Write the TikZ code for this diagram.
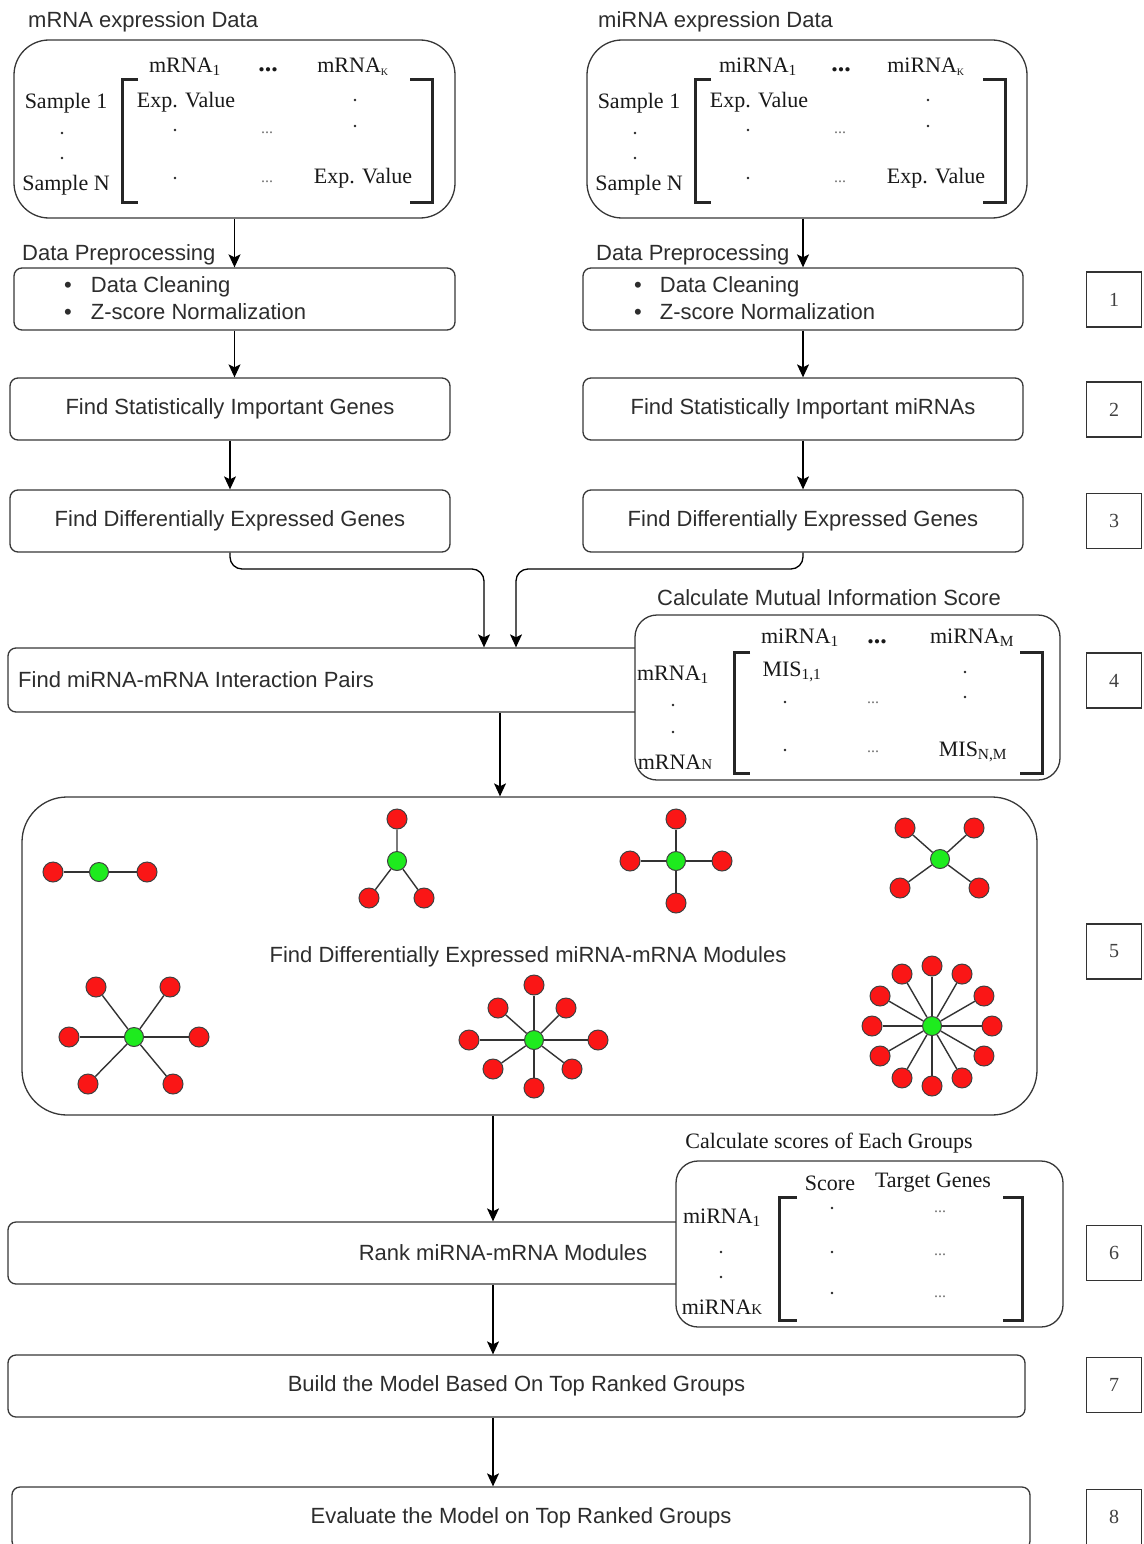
\documentclass[tikz,border=0pt]{standalone}
\usepackage{fontspec}
\setmainfont{Liberation Serif}
\newfontfamily\arialf{Liberation Sans}
\usetikzlibrary{arrows.meta,calc}
\definecolor{txt}{RGB}{45,45,45}
\definecolor{bord}{RGB}{55,55,55}
\definecolor{rnode}{RGB}{250,22,22}
\definecolor{gnode}{RGB}{30,235,30}
\newcommand\SF{\arialf\fontsize{22}{26}\selectfont}
\newcommand\SR{\fontsize{22}{26}\selectfont}
\newcommand\subsm[1]{\textsubscript{\fontsize{10}{10}\selectfont #1}}
\tikzset{
 bx/.style={draw=bord, line width=1.3pt, rounded corners=8pt, fill=white, inner sep=0pt, font=\SF, text=txt},
 lbl/.style={inner sep=0pt, text=txt, font=\SF},
 ser/.style={inner sep=0pt, text=black!90, font=\SR},
 ell/.style={inner sep=0pt, text=black!55, font=\fontsize{16}{16}\selectfont},
 hell/.style={inner sep=0pt, text=black!90, font=\bfseries\fontsize{26}{26}\selectfont},
 arr/.style={draw=black, line width=1.3pt, -{Stealth[length=13pt,width=12pt,inset=3pt]}},
 brk/.style={line width=3pt, draw=black!85},
 rn/.style={circle, draw=black!75, line width=1pt, fill=rnode, minimum size=20pt, inner sep=0pt},
 gn/.style={circle, draw=black!75, line width=1pt, fill=gnode, minimum size=19pt, inner sep=0pt},
 ed/.style={draw=black!80, line width=1.4pt},
 numbox/.style={draw=black!80, line width=1.2pt, minimum width=55pt, minimum height=55pt, inner sep=0pt, font=\fontsize{20}{20}\selectfont, text=black!75},
}
\newcommand\pdot[1]{\fill[black!85] #1 circle (1.4pt);}
\newcommand\datamat[3]{%
\begin{scope}[xshift=#3pt]
 \node[ser] (#1h1) at (185,67) {#2\textsubscript{1}};
 \node[hell] (#1hd) at (268,70) {...};
 \node[ser] (#1hK) at (353,67) {#2\subsm{K}};
 \node[ser] (#1r1) at (66,103) {Sample 1};
 \node[ser] (#1rN) at (66,185) {Sample N};
 \pdot{(62,133)} \pdot{(62,158)}
 \draw[brk] (138,80) -- (122,80) -- (122,202) -- (138,202);
 \draw[brk] (410,80) -- (432,80) -- (432,202) -- (410,202);
 \node[ser] (#1e11) at (186,102) {Exp. Value};
 \pdot{(175,130)} \node[ell] (#1l1) at (267,133) {...};
 \pdot{(355,100)} \pdot{(355,126)}
 \pdot{(175,178)} \node[ell] (#1l2) at (267,182) {...};
 \node[ser] (#1eNK) at (363,178) {Exp. Value};
\end{scope}}
\begin{document}
\begin{tikzpicture}[x=1pt,y=-1pt]
\useasboundingbox (0,0) rectangle (1143,1544);
% titles
\node[lbl, anchor=west] (tl) at (28,22) {mRNA expression Data};
\node[lbl, anchor=west] (tr) at (598,22) {miRNA expression Data};
% data boxes
\node[bx, rounded corners=35pt, minimum width=441pt, minimum height=178pt] (b1) at (234.5,129) {};
\node[bx, rounded corners=35pt, minimum width=440pt, minimum height=178pt] (b2) at (807,129) {};
\datamat{a}{mRNA}{0}
\datamat{b}{miRNA}{573}
% preprocessing
\node[bx, minimum width=441pt, minimum height=62pt] (pp1) at (234.5,299) {};
\node[bx, minimum width=440pt, minimum height=62pt] (pp2) at (803,299) {};
\node[lbl, anchor=west] (dp1) at (22,255) {Data Preprocessing};
\node[lbl, anchor=west] (dp2) at (596,255) {Data Preprocessing};
\node[lbl, anchor=west] (bl1) at (64,287) {\textbullet\hspace{19pt}Data Cleaning};
\node[lbl, anchor=west] (bl2) at (64,312) {\textbullet\hspace{19pt}Z-score Normalization};
\node[lbl, anchor=west] (br1) at (634,287) {\textbullet\hspace{18pt}Data Cleaning};
\node[lbl, anchor=west] (br2) at (634,312) {\textbullet\hspace{18pt}Z-score Normalization};
% steps 2,3
\node[bx, minimum width=440pt, minimum height=62pt] (s2l) at (230,409) {Find Statistically Important Genes};
\node[bx, minimum width=440pt, minimum height=62pt] (s2r) at (803,409) {Find Statistically Important miRNAs};
\node[bx, minimum width=440pt, minimum height=62pt] (s3l) at (230,521) {Find Differentially Expressed Genes};
\node[bx, minimum width=440pt, minimum height=62pt] (s3r) at (803,521) {Find Differentially Expressed Genes};
% step 4
\node[bx, minimum width=984pt, minimum height=64pt] (s4) at (500,680) {};
\node[lbl, anchor=west] (t4) at (18,680) {Find miRNA-mRNA Interaction Pairs};
\node[lbl] (tmis) at (829,598) {Calculate Mutual Information Score};
\node[bx, rounded corners=22pt, minimum width=425pt, minimum height=165pt] (mis) at (847.5,697.5) {};
\node[ser] (mh1) at (800,638) {miRNA\textsubscript{1}};
\node[hell] (mhd) at (877,642) {...};
\node[ser] (mhM) at (972,638) {miRNA\textsubscript{M}};
\node[ser] (mr1) at (673,675) {mRNA\textsubscript{1}};
\pdot{(673,705)} \pdot{(673,732)}
\node[ser] (mrN) at (675,762) {mRNA{\fontsize{15}{15}\selectfont N}};
\draw[brk] (750,652) -- (734,652) -- (734,773) -- (750,773);
\draw[brk] (1020,652) -- (1042,652) -- (1042,773) -- (1020,773);
\node[ser] (mis11) at (792,672) {MIS\textsubscript{1,1}};
\pdot{(965,672)} \pdot{(965,697)}
\pdot{(785,702)} \node[ell] (ml1) at (873,703) {...};
\pdot{(785,750)} \node[ell] (ml2) at (873,752) {...};
\node[ser] (misNM) at (973,752) {MIS\textsubscript{N,M}};
% module box
\node[bx, rounded corners=45pt, minimum width=1015pt, minimum height=318pt] (mod) at (529.5,956) {};
\node[lbl] (tmod) at (528,957) {Find Differentially Expressed miRNA-mRNA Modules};
% module 1
\node[gn] (g1) at (99,872) {};
\node[rn] (g1a) at (53,872) {};
\node[rn] (g1b) at (147,872) {};
\draw[ed] (g1a) -- (g1) (g1) -- (g1b);
% module 2
\node[gn] (g2) at (397,861) {};
\node[rn] (g2a) at (397,819) {};
\node[rn] (g2b) at (369,898) {};
\node[rn] (g2c) at (424,898) {};
\draw[ed] (g2) -- (g2a) (g2) -- (g2b) (g2) -- (g2c);
% module 3
\node[gn] (g3) at (676,861) {};
\node[rn] (g3a) at (676,819) {};
\node[rn] (g3b) at (676,903) {};
\node[rn] (g3c) at (630,861) {};
\node[rn] (g3d) at (722,861) {};
\draw[ed] (g3) -- (g3a) (g3) -- (g3b) (g3) -- (g3c) (g3) -- (g3d);
% module 4
\node[gn] (g4) at (940,859) {};
\node[rn] (g4a) at (905,828) {};
\node[rn] (g4b) at (974,828) {};
\node[rn] (g4c) at (900,888) {};
\node[rn] (g4d) at (979,888) {};
\draw[ed] (g4) -- (g4a) (g4) -- (g4b) (g4) -- (g4c) (g4) -- (g4d);
% module 6
\node[gn] (g6) at (134,1037) {};
\foreach \p [count=\i] in {(96,987),(170,987),(69,1037),(199,1037),(88,1084),(173,1084)} {
  \node[rn] (g6r\i) at \p {};
  \draw[ed] (g6) -- (g6r\i);
}
% module 7
\node[gn] (g7) at (534,1040) {};
\foreach \p [count=\i] in {(534,985),(534,1088),(469,1040),(598,1040),(498,1008),(566,1008),(493,1069),(572,1069)} {
  \node[rn] (g7r\i) at \p {};
  \draw[ed] (g7) -- (g7r\i);
}
% module 8
\node[gn] (g8) at (932,1026) {};
\foreach \a [count=\i] in {0,30,...,330} {
  \node[rn] (g8r\i) at ($(g8)+(\a:60)$) {};
  \draw[ed] (g8) -- (g8r\i);
}
% step 6
\node[bx, minimum width=990pt, minimum height=62pt] (s6) at (503,1253) {Rank miRNA-mRNA Modules};
\node[ser] (tsc) at (829,1143) {Calculate scores of Each Groups};
\node[bx, rounded corners=22pt, minimum width=387pt, minimum height=166pt] (sc) at (869.5,1244) {};
\node[ser] (scS) at (830,1183) {Score};
\node[ser] (scT) at (933,1183) {Target Genes};
\node[ser] (sr1) at (722,1218) {miRNA\textsubscript{1}};
\pdot{(721,1252)} \pdot{(721,1277)}
\node[ser] (srK) at (722,1307) {miRNA{\fontsize{15}{15}\selectfont K}};
\draw[brk] (797,1197) -- (779,1197) -- (779,1320) -- (797,1320);
\draw[brk] (1003,1197) -- (1022,1197) -- (1022,1320) -- (1003,1320);
\pdot{(832,1208)} \pdot{(832,1252)} \pdot{(832,1293)}
\node[ell] (sl1) at (940,1212) {...};
\node[ell] (sl2) at (940,1255) {...};
\node[ell] (sl3) at (940,1297) {...};
% steps 7, 8
\node[bx, minimum width=1017pt, minimum height=62pt] (s7) at (516.5,1386) {Build the Model Based On Top Ranked Groups};
\node[bx, minimum width=1018pt, minimum height=62pt] (s8) at (521,1518) {Evaluate the Model on Top Ranked Groups};
% number boxes
\node[numbox] (n1) at (1114,299.5) {1};
\node[numbox] (n2) at (1114,409.5) {2};
\node[numbox] (n3) at (1114,521) {3};
\node[numbox] (n4) at (1114,680.5) {4};
\node[numbox] (n5) at (1114,951.5) {5};
\node[numbox] (n6) at (1114,1253) {6};
\node[numbox] (n7) at (1114,1385) {7};
\node[numbox] (n8) at (1114,1517) {8};
% connectors
\coordinate (c1) at (484,569);
\coordinate (c2) at (516,569);
\coordinate (c4) at (493,0);
\draw[arr] (b1.south) -- (pp1.north);
\draw[arr] (b2.south -| pp2.north) -- (pp2.north);
\draw[arr] (pp1.south) -- (pp1.south |- s2l.north);
\draw[arr] (pp2.south) -- (s2r.north);
\draw[arr] (s2l.south) -- (s3l.north);
\draw[arr] (s2r.south) -- (s3r.north);
\draw[arr, rounded corners=12pt] (s3l.south) |- (c1) -- (c1 |- s4.north);
\draw[arr, rounded corners=12pt] (s3r.south) |- (c2) -- (c2 |- s4.north);
\draw[arr] (s4.south) -- (s4.south |- mod.north);
\draw[arr] (mod.south -| c4) -- (s6.north -| c4);
\draw[arr] (s6.south -| c4) -- (s7.north -| c4);
\draw[arr] (s7.south -| c4) -- (s8.north -| c4);
\end{tikzpicture}
\end{document}
